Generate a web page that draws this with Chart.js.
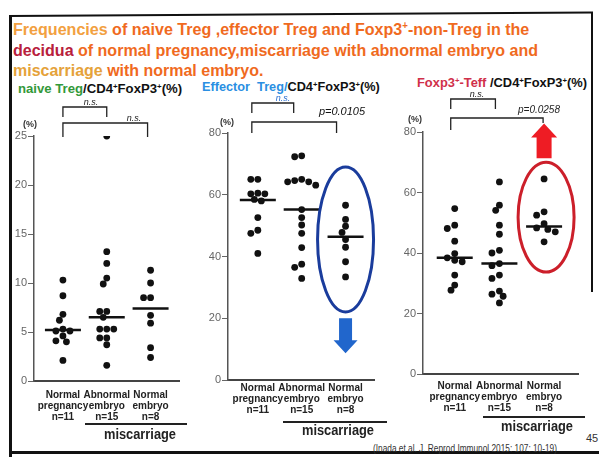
<!DOCTYPE html>
<html>
<head>
<meta charset="utf-8">
<script src="https://cdn.jsdelivr.net/npm/chart.js@4.4.1/dist/chart.umd.min.js"></script>
<style>
  body { margin: 0; background: #fff; }
  #page { position: relative; width: 599px; height: 457px; overflow: hidden; background: #fff;
          font-family: "Liberation Sans", Arial, sans-serif; }
  .line { position: absolute; background: #111; }
  .txt { position: absolute; white-space: nowrap; font-weight: bold; transform-origin: 0 50%; }
  .panel { position: absolute; top: 0; }
  sup { font-size: 0.6em; vertical-align: 0.55em; line-height: 0; }
</style>
</head>
<body>
<div id="page">
  <div class="line" style="left:9px;top:15px;width:584px;height:2px;transform:rotate(-0.35deg);transform-origin:0 0;"></div>
  <div class="line" style="left:9px;top:15px;width:3px;height:442px;"></div>
  <div class="line" style="left:591px;top:12px;width:2px;height:280px;"></div>
  <div class="line" style="left:9px;top:451px;width:590px;height:3px;"></div>

  <div class="txt" data-w="516" style="left:13px;top:21px;font-size:17px;line-height:18px;color:#f06a1e;"><span style="color:#f2a040">Frequencies</span> of naive Treg ,effector Treg and Foxp3<sup>+</sup>-non-Treg in the</div>
  <div class="txt" data-w="525" style="left:13px;top:42px;font-size:17px;line-height:18px;color:#f06a1e;"><span style="color:#b8203c">decidua</span> of normal pregnancy,miscarriage with abnormal embryo and</div>
  <div class="txt" data-w="250" style="left:13px;top:62px;font-size:17px;line-height:18px;color:#f06a1e;"><span style="color:#e5a23a">miscarriage</span> with normal embryo.</div>

  <div class="txt" data-w="164" style="left:18px;top:82px;font-size:12.5px;line-height:14px;color:#111;"><span style="color:#33993a">naive Treg</span>/CD4<sup>+</sup>FoxP3<sup>+</sup>(%)</div>
  <div class="txt" data-w="178" style="left:202px;top:80px;font-size:12.5px;line-height:14px;color:#111;"><span style="color:#2a8fe2">Effector&nbsp; Treg/</span>CD4<sup>+</sup>FoxP3<sup>+</sup>(%)</div>
  <div class="txt" data-w="170" style="left:417px;top:76px;font-size:12.5px;line-height:14px;color:#111;"><span style="color:#d0304a">Foxp3<sup>+</sup>-Teff</span> /CD4<sup>+</sup>FoxP3<sup>+</sup>(%)</div>

  <div class="txt" data-w="184" style="left:373px;top:442px;font-size:11px;line-height:12px;font-weight:normal;color:#333;">(Inada et al. J. Reprod Immunol 2015: 107: 10-19)</div>
  <div class="txt" style="left:586px;top:432px;font-size:11px;line-height:12px;font-weight:normal;color:#333;">45</div>
</div>
<script>
// ---- data ----
const categories = ['Normal pregnancy', 'Abnormal embryo', 'Normal embryo'];
const groupSizes = ['n=11', 'n=15', 'n=8'];

// naive Treg / CD4+FoxP3+ (%)
const naiveNormal = [10.3, 8.7, 6.8, 6.2, 5.3, 5.1, 5.1, 4.6, 4.1, 4.0, 2.1];
const naiveAbnormal = [25.0, 13.2, 12.0, 10.5, 9.9, 7.1, 7.1, 6.5, 5.3, 5.3, 5.3, 4.4, 4.4, 3.7, 1.6];
const naiveEmbryo = [11.3, 10.0, 8.5, 8.5, 6.7, 5.9, 3.4, 2.4];
const naiveMedians = [5.2, 6.5, 7.4];

// Effector Treg / CD4+FoxP3+ (%)
const effNormal = [65.0, 65.0, 60.5, 60.3, 60.3, 58.5, 58.0, 52.6, 48.5, 47.5, 41.0];
const effAbnormal = [72.6, 72.3, 65.0, 64.6, 64.2, 64.2, 63.1, 55.2, 52.6, 50.2, 47.5, 42.9, 37.5, 36.5, 32.9];
const effEmbryo = [56.6, 52.0, 49.8, 47.8, 45.5, 43.0, 38.3, 33.4];
const effMedians = [58.3, 55.2, 46.4];

// Foxp3+-Teff / CD4+FoxP3+ (%)
const teffNormal = [54.7, 49.2, 48.1, 43.9, 39.8, 38.4, 37.6, 37.1, 32.7, 29.4, 27.7];
const teffAbnormal = [63.5, 55.8, 54.1, 49.2, 46.2, 40.9, 40.0, 36.5, 35.8, 32.7, 31.6, 27.4, 26.4, 25.7, 23.5];
const teffEmbryo = [64.5, 53.6, 52.5, 49.7, 48.3, 47.8, 47.0, 43.7];
const teffMedians = [38.4, 36.5, 48.8];

const naiveTicks = [0, 5, 10, 15, 20, 25];
const pctTicks = [0, 20, 40, 60, 80];

const FONT = '"Liberation Sans", Arial, sans-serif';
Chart.defaults.font.family = FONT;

// squeeze the slide texts to the width they have in the scan
document.querySelectorAll('.txt[data-w]').forEach(el => {
  const s = +el.dataset.w / el.offsetWidth;
  el.style.transform = 'scaleX(' + s + ')';
});

// spread dots that sit on the same level sideways (simple beeswarm)
function swarm(values, cat, pxY, pxX) {
  const placed = [];
  const gap = 6.5, step = 4;
  values.slice().sort((a, b) => b - a).forEach(v => {
    for (let k = 0; k < 15; k++) {
      const off = k === 0 ? 0 : (k % 2 ? -1 : 1) * Math.ceil(k / 2) * step;
      const free = placed.every(p => Math.hypot(p.px - off, (p.v - v) * pxY) >= gap);
      if (free) { placed.push({ px: off, v: v }); break; }
    }
  });
  return placed.map(p => ({ x: cat + p.px / pxX, y: p.v }));
}

function fitText(ctx, txt, x, y, w) {
  const m = ctx.measureText(txt).width;
  const s = Math.min(1, w / m);
  ctx.save();
  ctx.translate(x, y);
  ctx.scale(s, 1);
  ctx.fillText(txt, 0, 0);
  ctx.restore();
}

function arrow(ctx, x, yBase, yTip, shaftW, headW, headL) {
  const dir = Math.sign(yTip - yBase);
  const yNeck = yTip - dir * headL;
  ctx.beginPath();
  ctx.moveTo(x - shaftW / 2, yBase);
  ctx.lineTo(x - shaftW / 2, yNeck);
  ctx.lineTo(x - headW / 2, yNeck);
  ctx.lineTo(x, yTip);
  ctx.lineTo(x + headW / 2, yNeck);
  ctx.lineTo(x + shaftW / 2, yNeck);
  ctx.lineTo(x + shaftW / 2, yBase);
  ctx.closePath();
  ctx.fill();
}

const panels = [
  {
    left: 0, width: 200, area: { left: 34, top: 136, right: 200, bottom: 381 },
    xRange: [0.34, 3.66], yMax: 25, yTicks: naiveTicks, tickPad: 1,
    groups: [naiveNormal, naiveAbnormal, naiveEmbryo], medians: naiveMedians,
    pct: [30, 125],
    brackets: [
      { a: 1, b: 2, dxA: 0, dxB: 0, y: 107, legA: 117, legB: 117, text: 'n.s.', tx: 91, ty: 102, color: '#222', font: 'italic 9px ' + FONT },
      { a: 1, b: 3, dxA: 0, dxB: -3, y: 123, legA: 137, legB: 137, text: 'n.s.', tx: 134, ty: 118, color: '#222', font: 'italic 9px ' + FONT }
    ],
    under: { y: 424, x0: 85, x1: 187, tx: 140, ty: 435 }
  },
  {
    left: 195, width: 200, area: { left: 228, top: 133, right: 395, bottom: 380 },
    xRange: [0.32, 3.66], yMax: 80, yTicks: pctTicks, tickPad: -5,
    groups: [effNormal, effAbnormal, effEmbryo], medians: effMedians,
    pct: [227, 123],
    brackets: [
      { a: 1, b: 2, dxA: -6, dxB: -8, y: 103, legA: 113, legB: 113, text: 'n.s.', tx: 283, ty: 98, color: '#2a6fd0', font: 'italic 9px ' + FONT },
      { a: 1, b: 3, dxA: -6, dxB: -9, y: 122, legA: 133, legB: 133, text: 'p=0.0105', tx: 342, ty: 112, color: '#111', font: 'italic 11px ' + FONT }
    ],
    ring: { lo: 22, hi: 69, rx: 28, dx: 0, color: '#1a3c9c' },
    arrowDef: { from: 20, to: 8.7, shaft: 13, head: 24, headL: 13, color: '#2166cc' },
    under: { y: 422, x0: 283, x1: 387, tx: 338, ty: 431 }
  },
  {
    left: 390, width: 209, area: { left: 423, top: 132, right: 590, bottom: 374 },
    xRange: [0.29, 3.77], yMax: 80, yTicks: pctTicks, tickPad: -1,
    groups: [teffNormal, teffAbnormal, teffEmbryo], medians: teffMedians,
    pct: [415, 120],
    brackets: [
      { a: 1, b: 2, dxA: -4, dxB: -4, y: 99, legA: 109, legB: 109, text: 'n.s.', tx: 477, ty: 94, color: '#222', font: 'italic 9px ' + FONT },
      { a: 1, b: 3, dxA: -4, dxB: -1, y: 118, legA: 130, legB: 123, text: 'p=0.0258', tx: 539, ty: 110, color: '#222', font: 'italic 10px ' + FONT }
    ],
    ring: { lo: 33.7, hi: 70, rx: 28, dx: 2, color: '#cc1f2a' },
    arrowDef: { from: 71.3, to: 82.8, shaft: 15, head: 26, headL: 14, color: '#ee1c24' },
    under: { y: 417, x0: 483, x1: 585, tx: 537, ty: 427 }
  }
];

function annotations(p) {
  return {
    id: 'annot',
    afterDatasetsDraw(chart) {
      const ctx = chart.ctx, xs = chart.scales.x, ys = chart.scales.y, off = p.left;
      ctx.save();
      ctx.textAlign = 'center';
      ctx.textBaseline = 'middle';

      ctx.font = 'bold 9px ' + FONT;
      ctx.fillStyle = '#333';
      ctx.fillText('(%)', p.pct[0] - off, p.pct[1]);

      p.brackets.forEach(b => {
        const xa = xs.getPixelForValue(b.a) + b.dxA;
        const xb = xs.getPixelForValue(b.b) + b.dxB;
        ctx.strokeStyle = '#222';
        ctx.lineWidth = 1.3;
        ctx.beginPath();
        ctx.moveTo(xa, b.legA);
        ctx.lineTo(xa, b.y);
        ctx.lineTo(xb, b.y);
        ctx.lineTo(xb, b.legB);
        ctx.stroke();
        ctx.font = b.font;
        ctx.fillStyle = b.color;
        ctx.fillText(b.text, b.tx - off, b.ty);
      });

      if (p.ring) {
        const r = p.ring;
        const cx = xs.getPixelForValue(3) + r.dx;
        const y0 = ys.getPixelForValue(r.hi), y1 = ys.getPixelForValue(r.lo);
        ctx.beginPath();
        ctx.ellipse(cx, (y0 + y1) / 2, r.rx, (y1 - y0) / 2, 0, 0, Math.PI * 2);
        ctx.strokeStyle = r.color;
        ctx.lineWidth = 3;
        ctx.stroke();
        const a = p.arrowDef;
        ctx.fillStyle = a.color;
        arrow(ctx, xs.getPixelForValue(3), ys.getPixelForValue(a.from), ys.getPixelForValue(a.to), a.shaft, a.head, a.headL);
      }

      const u = p.under;
      ctx.strokeStyle = '#222';
      ctx.lineWidth = 2;
      ctx.beginPath();
      ctx.moveTo(u.x0 - off, u.y);
      ctx.lineTo(u.x1 - off, u.y);
      ctx.stroke();
      ctx.font = 'bold 14px ' + FONT;
      ctx.fillStyle = '#222';
      fitText(ctx, 'miscarriage', u.tx - off, u.ty, 72);
      ctx.restore();
    }
  };
}

const page = document.getElementById('page');
panels.forEach(p => {
  const holder = document.createElement('div');
  holder.className = 'panel';
  holder.style.left = p.left + 'px';
  const canvas = document.createElement('canvas');
  canvas.width = p.width;
  canvas.height = 457;
  holder.appendChild(canvas);
  page.appendChild(holder);

  const pxX = (p.area.right - p.area.left) / (p.xRange[1] - p.xRange[0]);
  const pxY = (p.area.bottom - p.area.top) / p.yMax;
  const dots = p.groups.flatMap((g, k) => swarm(g, k + 1, pxY, pxX));
  const medians = p.medians.map((m, k) => ({ x: k + 1, y: m }));

  new Chart(canvas, {
    type: 'scatter',
    data: {
      datasets: [
        { data: dots, backgroundColor: '#111', borderColor: '#111', borderWidth: 0, pointRadius: 3.4, pointHoverRadius: 3.4 },
        { data: medians, pointStyle: 'line', pointRadius: 18, pointHoverRadius: 18, borderColor: '#111', borderWidth: 2.5 }
      ]
    },
    options: {
      responsive: false,
      animation: false,
      events: [],
      layout: { padding: { top: p.area.top, left: 0, bottom: 0, right: p.width - (p.area.right - p.left) } },
      plugins: { legend: { display: false }, tooltip: { enabled: false } },
      scales: {
        x: {
          type: 'linear', min: p.xRange[0], max: p.xRange[1],
          grid: { display: false },
          border: { display: true, color: '#444', width: 2 },
          afterBuildTicks: s => { s.ticks = [1, 2, 3].map(v => ({ value: v })); },
          afterFit: s => { s.height = 457 - p.area.bottom; },
          ticks: {
            autoSkip: false, maxRotation: 0, minRotation: 0, padding: p.tickPad, color: '#222',
            font: { size: 10, weight: 'bold', lineHeight: 1.1 },
            callback: v => categories[v - 1].split(' ').concat(groupSizes[v - 1])
          }
        },
        y: {
          min: 0, max: p.yMax,
          afterBuildTicks: s => { s.ticks = p.yTicks.map(v => ({ value: v })); },
          afterFit: s => { s.width = p.area.left - p.left; },
          grid: { drawOnChartArea: false, tickLength: 6, color: '#666', lineWidth: 1 },
          border: { color: '#555', width: 1.5 },
          ticks: { padding: 1, color: '#666', font: { size: 11 } }
        }
      }
    },
    plugins: [annotations(p)]
  });
});
</script>
</body>
</html>
